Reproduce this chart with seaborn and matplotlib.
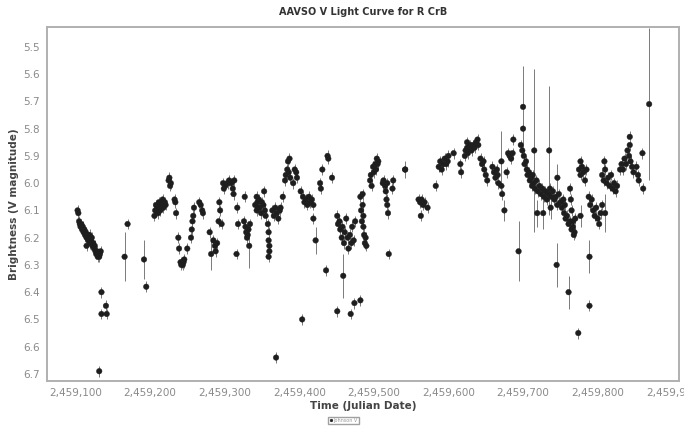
import numpy as np
import pandas as pd
import matplotlib
matplotlib.use("Agg")
import matplotlib.pyplot as plt
import matplotlib.ticker as mticker
import seaborn as sns

# julian dates (typical points)
jd = [
    2459103, 2459104, 2459105, 2459106, 2459107, 2459108, 2459109, 2459110, 2459111, 2459112,
    2459113, 2459114, 2459115, 2459115, 2459116, 2459117, 2459118, 2459119, 2459120, 2459121,
    2459122, 2459123, 2459124, 2459125, 2459126, 2459127, 2459128, 2459129, 2459130, 2459131,
    2459132, 2459133, 2459134, 2459135, 2459135, 2459141, 2459142, 2459132, 2459170, 2459195,
    2459206, 2459207, 2459208, 2459210, 2459211, 2459212, 2459214, 2459215, 2459217, 2459218,
    2459220, 2459221, 2459225, 2459226, 2459227, 2459228, 2459233, 2459234, 2459235, 2459238,
    2459239, 2459241, 2459242, 2459243, 2459244, 2459245, 2459246, 2459250, 2459255, 2459256,
    2459257, 2459258, 2459259, 2459266, 2459268, 2459270, 2459271, 2459280, 2459285, 2459287,
    2459288, 2459290, 2459293, 2459294, 2459292, 2459296, 2459298, 2459299, 2459301, 2459304,
    2459306, 2459309, 2459311, 2459312, 2459313, 2459317, 2459316, 2459318, 2459327, 2459326,
    2459328, 2459329, 2459330, 2459331, 2459332, 2459334, 2459343, 2459344, 2459345, 2459341,
    2459343, 2459346, 2459347, 2459349, 2459350, 2459352, 2459353, 2459354, 2459355, 2459358,
    2459359, 2459359, 2459360, 2459360, 2459359, 2459364, 2459366, 2459368, 2459370, 2459372,
    2459374, 2459375, 2459378, 2459381, 2459382, 2459384, 2459386, 2459388, 2459385, 2459387,
    2459392, 2459394, 2459396, 2459397, 2459402, 2459405, 2459407, 2459409, 2459411, 2459413,
    2459415, 2459417, 2459419, 2459419, 2459428, 2459429, 2459431, 2459438, 2459439, 2459444,
    2459436, 2459404, 2459369, 2459451, 2459452, 2459454, 2459455, 2459457, 2459458, 2459460,
    2459461, 2459463, 2459465, 2459466, 2459468, 2459470, 2459471, 2459473, 2459475, 2459451,
    2459469, 2459474, 2459482, 2459485, 2459485, 2459486, 2459486, 2459487, 2459488, 2459482,
    2459483, 2459484, 2459489, 2459490, 2459495, 2459496, 2459497, 2459499, 2459500, 2459502,
    2459503, 2459504, 2459505, 2459506, 2459512, 2459513, 2459515, 2459516, 2459518, 2459517,
    2459518, 2459519, 2459520, 2459525, 2459526, 2459542, 2459560, 2459562, 2459564, 2459566,
    2459568, 2459563, 2459572, 2459583, 2459587, 2459589, 2459591, 2459593, 2459595, 2459597,
    2459599, 2459600, 2459607, 2459616, 2459617, 2459625, 2459626, 2459623, 2459625, 2459627,
    2459629, 2459631, 2459633, 2459635, 2459637, 2459639, 2459640, 2459622, 2459643, 2459645,
    2459647, 2459648, 2459650, 2459652, 2459659, 2459661, 2459663, 2459665, 2459667, 2459666,
    2459671, 2459672, 2459678, 2459680, 2459682, 2459684, 2459686, 2459687, 2459700, 2459697,
    2459699, 2459701, 2459702, 2459704, 2459705, 2459706, 2459708, 2459709, 2459711, 2459712,
    2459713, 2459714, 2459716, 2459718, 2459720, 2459722, 2459724, 2459726, 2459728, 2459730,
    2459732, 2459734, 2459736, 2459738, 2459740, 2459742, 2459744, 2459746, 2459748, 2459750,
    2459752, 2459754, 2459756, 2459755, 2459757, 2459759, 2459761, 2459763, 2459765, 2459767,
    2459769, 2459763, 2459764, 2459765, 2459767, 2459768, 2459770, 2459777, 2459775, 2459777,
    2459779, 2459781, 2459783, 2459785, 2459789, 2459774, 2459788, 2459790, 2459792, 2459794,
    2459796, 2459798, 2459800, 2459802, 2459804, 2459806, 2459806, 2459808, 2459810, 2459812,
    2459814, 2459816, 2459818, 2459820, 2459822, 2459824, 2459826, 2459809, 2459830, 2459832,
    2459834, 2459836, 2459838, 2459840, 2459842, 2459843, 2459844, 2459846, 2459848, 2459843,
    2459852, 2459854, 2459855, 2459860, 2459861,
]
# V magnitudes for the points above
mag = [
    6.10, 6.11, 6.14, 6.15, 6.16, 6.15, 6.17, 6.16, 6.18, 6.17,
    6.19, 6.18, 6.20, 6.23, 6.19, 6.21, 6.20, 6.19, 6.22, 6.21,
    6.20, 6.23, 6.22, 6.24, 6.23, 6.25, 6.26, 6.25, 6.27, 6.26,
    6.27, 6.26, 6.25, 6.40, 6.48, 6.45, 6.48, 6.69, 6.15, 6.38,
    6.12, 6.10, 6.08, 6.09, 6.11, 6.07, 6.10, 6.08, 6.06, 6.09,
    6.07, 6.08, 5.99, 5.98, 6.01, 6.00, 6.06, 6.07, 6.11, 6.20,
    6.24, 6.29, 6.30, 6.29, 6.30, 6.29, 6.28, 6.24, 6.20, 6.17,
    6.14, 6.12, 6.09, 6.07, 6.08, 6.10, 6.11, 6.18, 6.21, 6.23,
    6.25, 6.22, 6.07, 6.10, 6.14, 6.15, 6.00, 6.02, 6.01, 6.00,
    5.99, 6.00, 6.02, 6.04, 5.99, 6.09, 6.26, 6.15, 6.05, 6.14,
    6.16, 6.18, 6.20, 6.19, 6.17, 6.15, 6.05, 6.07, 6.09, 6.08,
    6.10, 6.06, 6.09, 6.11, 6.07, 6.08, 6.03, 6.10, 6.12, 6.15,
    6.18, 6.21, 6.23, 6.25, 6.27, 6.10, 6.12, 6.09, 6.11, 6.13,
    6.10, 6.09, 6.05, 5.99, 5.97, 5.95, 5.96, 5.98, 5.92, 5.91,
    6.00, 5.95, 5.96, 5.98, 6.03, 6.05, 6.07, 6.06, 6.08, 6.05,
    6.07, 6.06, 6.08, 6.13, 6.00, 6.02, 5.95, 5.90, 5.91, 5.98,
    6.32, 6.50, 6.64, 6.12, 6.15, 6.14, 6.17, 6.20, 6.16, 6.22,
    6.18, 6.13, 6.20, 6.24, 6.19, 6.22, 6.16, 6.21, 6.14, 6.47,
    6.48, 6.44, 6.43, 6.04, 6.08, 6.12, 6.16, 6.19, 6.22, 6.05,
    6.10, 6.14, 6.20, 6.23, 5.99, 5.97, 6.01, 5.94, 5.96, 5.93,
    5.95, 5.91, 5.93, 5.92, 6.00, 5.99, 6.01, 6.03, 6.00, 6.06,
    6.08, 6.11, 6.26, 6.02, 5.99, 5.95, 6.06, 6.07, 6.06, 6.08,
    6.07, 6.12, 6.09, 6.01, 5.94, 5.92, 5.95, 5.93, 5.91, 5.93,
    5.92, 5.90, 5.89, 5.93, 5.96, 5.87, 5.89, 5.88, 5.85, 5.87,
    5.86, 5.88, 5.86, 5.87, 5.85, 5.84, 5.86, 5.90, 5.91, 5.93,
    5.92, 5.95, 5.97, 5.99, 5.94, 5.96, 5.98, 5.95, 6.00, 5.97,
    6.01, 6.04, 5.96, 5.89, 5.90, 5.91, 5.89, 5.84, 5.80, 5.86,
    5.88, 5.90, 5.93, 5.92, 5.95, 5.97, 5.96, 5.99, 5.98, 6.01,
    5.97, 6.00, 6.02, 5.99, 6.03, 6.01, 6.04, 6.02, 6.05, 6.03,
    6.06, 6.04, 6.02, 6.05, 6.03, 6.06, 6.05, 6.08, 6.04, 6.07,
    6.09, 6.06, 6.08, 6.11, 6.13, 6.12, 6.15, 6.14, 6.17, 6.16,
    6.18, 6.02, 6.06, 6.10, 6.14, 6.19, 6.13, 5.92, 5.95, 5.97,
    5.94, 5.96, 5.99, 5.95, 6.45, 6.55, 6.05, 6.08, 6.06, 6.10,
    6.12, 6.09, 6.13, 6.15, 6.11, 6.08, 5.97, 5.99, 5.95, 6.00,
    5.98, 6.01, 5.97, 6.02, 6.00, 6.03, 6.01, 5.92, 5.95, 5.93,
    5.95, 5.91, 5.93, 5.88, 5.90, 5.86, 5.92, 5.94, 5.96, 5.83,
    5.94, 5.97, 5.99, 5.89, 6.02,
]
typical_err = 0.02

# observations with visibly long error bars
jd_wide = [2459166, 2459192, 2459282, 2459333, 2459422, 2459459, 2459542, 2459671, 2459675,
           2459694, 2459700, 2459715, 2459719, 2459727, 2459735, 2459737, 2459746, 2459745,
           2459761, 2459777, 2459789, 2459810, 2459869]
mag_wide = [6.27, 6.28, 6.26, 6.23, 6.21, 6.34, 5.95, 5.92, 6.10,
            6.25, 5.72, 5.88, 6.11, 6.11, 5.88, 6.09, 5.98, 6.30,
            6.40, 6.12, 6.27, 6.11, 5.71]
err_wide = [0.09, 0.07, 0.06, 0.08, 0.05, 0.08, 0.03, 0.11, 0.04,
            0.11, 0.15, 0.30, 0.05, 0.06, 0.235, 0.04, 0.05, 0.08,
            0.06, 0.04, 0.06, 0.07, 0.28]

obs = pd.DataFrame({"jd": jd + jd_wide, "mag": mag + mag_wide,
                    "err": [typical_err] * len(jd) + err_wide,
                    "band": "Johnson V"})

sns.set_theme(style="white")
plt.rcParams["font.family"] = ["DejaVu Sans"]

fig = plt.figure(figsize=(6.84, 4.26), dpi=100)
ax = fig.add_axes([0.0687, 0.1056, 0.924, 0.831])

ax.errorbar(obs["jd"], obs["mag"], yerr=obs["err"], fmt="none",
            ecolor="#7a7a7a", elinewidth=0.7, capsize=0, zorder=1)
sns.scatterplot(data=obs, x="jd", y="mag", hue="band", palette=["#1e1e1e"],
                s=16, edgecolor="#1e1e1e", linewidth=0.3, ax=ax, zorder=2)

ax.set_xlim(2459062, 2459909)
ax.set_ylim(6.726, 5.427)
ax.xaxis.set_major_locator(mticker.MultipleLocator(100))
ax.xaxis.set_major_formatter(mticker.StrMethodFormatter("{x:,.0f}"))
ax.yaxis.set_major_locator(mticker.MultipleLocator(0.1))
ax.yaxis.set_major_formatter(mticker.StrMethodFormatter("{x:.1f}"))
ax.tick_params(axis="both", labelsize=7.5, colors="#8a8a8a", length=2, pad=3)
for sp in ax.spines.values():
    sp.set_color("#b0b0b0")
    sp.set_linewidth(1.4)

ax.set_title("AAVSO V Light Curve for R CrB", fontsize=7, fontweight="bold",
             color="#333333", pad=9)
ax.set_xlabel("Time (Julian Date)", fontsize=7.5, fontweight="bold", color="#444444", labelpad=2)
ax.set_ylabel("Brightness (V magnitude)", fontsize=7.5, fontweight="bold", color="#444444", labelpad=3)

ax.legend_.remove()
handles, labels = ax.get_legend_handles_labels()
fig.legend(handles, labels, loc="center", bbox_to_anchor=(0.502, 0.013), fontsize=3.5,
           frameon=True, edgecolor="#888888", fancybox=False, markerscale=0.5,
           handletextpad=0.2, borderpad=0.3, handlelength=0.6, labelcolor="#999999")

fig.savefig("out.png", dpi=100)
